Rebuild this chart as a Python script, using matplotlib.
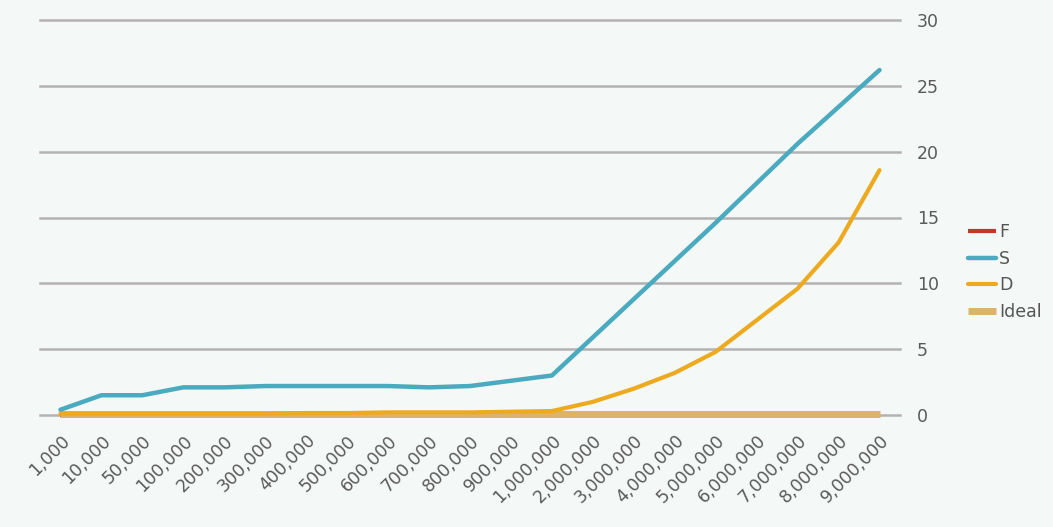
import matplotlib
matplotlib.use("Agg")
import matplotlib.pyplot as plt

categories = ["1,000", "10,000", "50,000", "100,000", "200,000", "300,000", "400,000",
              "500,000", "600,000", "700,000", "800,000", "900,000", "1,000,000",
              "2,000,000", "3,000,000", "4,000,000", "5,000,000", "6,000,000",
              "7,000,000", "8,000,000", "9,000,000"]
F_vals = [0.0] * 21
S_vals = [0.4, 1.5, 1.5, 2.1, 2.1, 2.2, 2.2, 2.2, 2.2, 2.1, 2.2, 2.6, 3.0,
          5.9, 8.8, 11.7, 14.6, 17.6, 20.6, 23.4, 26.2]
D_vals = [0.1, 0.1, 0.1, 0.1, 0.1, 0.1, 0.15, 0.15, 0.2, 0.2, 0.2, 0.25, 0.3,
          1.0, 2.0, 3.2, 4.8, 7.2, 9.6, 13.1, 18.6]
Ideal_vals = [0.05] * 21
yticks = [0, 5, 10, 15, 20, 25, 30]

bg = "#f4f8f6"
fig = plt.figure(figsize=(10.53, 5.27), dpi=100, facecolor=bg)
ax = fig.add_axes([40/1053, 1-415/527, 860/1053, 395/527], facecolor=bg)

x = list(range(len(categories)))
for yv in yticks:
    ax.axhline(yv, color="#b2b2b2", lw=1.8, zorder=1, clip_on=False)

ax.plot(x, F_vals, color="#c0392b", lw=3, label="F", zorder=2, clip_on=False,
        solid_capstyle="butt")
ax.plot(x, Ideal_vals, color="#ddb36c", lw=5, label="Ideal", zorder=3, clip_on=False,
        solid_capstyle="butt")
ax.plot(x, D_vals, color="#eeaa1e", lw=3, label="D", zorder=4, clip_on=False,
        solid_capstyle="round")
ax.plot(x, S_vals, color="#4aaabf", lw=3.2, label="S", zorder=5, clip_on=False,
        solid_capstyle="round")

ax.set_xlim(-0.5, len(categories) - 0.5)
ax.set_ylim(0, 30)
ax.set_xticks(x)
ax.set_xticklabels(categories, rotation=45, ha="right", va="top",
                   rotation_mode="anchor", fontsize=12.5, color="#5a5a5a")
ax.yaxis.tick_right()
ax.set_yticks(yticks)
ax.set_yticklabels([str(v) for v in yticks], fontsize=12.5, color="#5a5a5a")
ax.tick_params(axis="y", length=0, pad=12)
ax.tick_params(axis="x", length=0, pad=12)
for s in ax.spines.values():
    s.set_visible(False)

handles, labels = ax.get_legend_handles_labels()
order = ["F", "S", "D", "Ideal"]
hmap = dict(zip(labels, handles))
leg = fig.legend([hmap[k] for k in order], order, loc="upper left",
                 bbox_to_anchor=(968/1053, 1-223/527), frameon=False,
                 fontsize=12.5, handlelength=1.6, handletextpad=0.2,
                 labelspacing=0.5, borderaxespad=0, borderpad=0)
for t in leg.get_texts():
    t.set_color("#555555")

fig.savefig("out.png", dpi=100, facecolor=bg)
